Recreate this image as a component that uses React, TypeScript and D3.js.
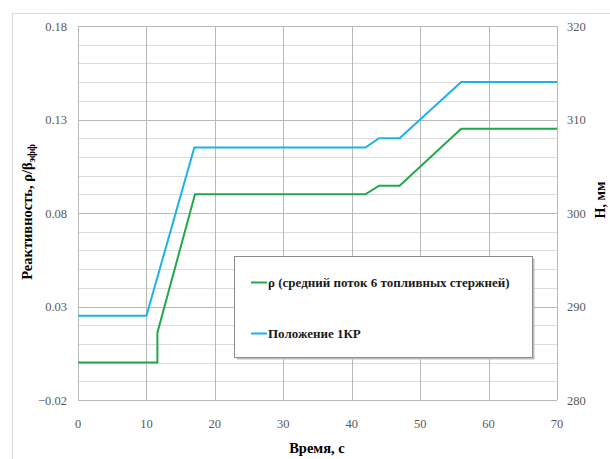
import * as d3 from 'd3'
import { useEffect, useRef } from 'react'

// control rod position (right axis, mm)
const timeRod = [0, 10, 17, 42, 44, 47, 56, 70]
const posRod = [289, 289, 307, 307, 308, 308, 314, 314]

// reactivity (left axis, ρ/β_eff)
const timeRho = [0, 11.6, 11.6, 17.1, 42, 44, 47, 56, 70]
const rhoVals = [0, 0, 0.016, 0.09, 0.09, 0.0946, 0.0946, 0.125, 0.125]

const xTicks = [0, 10, 20, 30, 40, 50, 60, 70]
const leftTicks = [-0.02, 0.03, 0.08, 0.13, 0.18]
const rightTicks = [280, 290, 300, 310, 320]
const legendLabels = ['ρ (средний поток 6 топливных стержней)', 'Положение 1КР']

const GREEN = '#22a84a'
const BLUE = '#1cb2e6'
const FONT = '"Liberation Serif", serif'

const App = () => {
  const ref = useRef<SVGSVGElement>(null)

  useEffect(() => {
    const svg = d3.select(ref.current)
    svg.selectAll('*').remove()

    const left = 78,
      right = 557,
      top = 26,
      bottom = 400

    const x = d3.scaleLinear().domain([0, 70]).range([left, right])
    const yL = d3.scaleLinear().domain([-0.02, 0.18]).range([bottom, top])
    const yR = d3.scaleLinear().domain([280, 320]).range([bottom, top])

    // outer frame
    svg
      .append('rect')
      .attr('x', 12.5)
      .attr('y', 13.5)
      .attr('width', 640)
      .attr('height', 480)
      .attr('fill', 'white')
      .attr('stroke', '#d9d9d9')

    // minor horizontal grid
    const minor = d3.range(-0.02, 0.1801, 0.01)
    svg
      .append('g')
      .selectAll('line')
      .data(minor)
      .enter()
      .append('line')
      .attr('x1', left)
      .attr('x2', right)
      .attr('y1', (d) => Math.round(yL(d)) + 0.5)
      .attr('y2', (d) => Math.round(yL(d)) + 0.5)
      .attr('stroke', '#dcdcdc')

    // major horizontal grid
    svg
      .append('g')
      .selectAll('line')
      .data(leftTicks)
      .enter()
      .append('line')
      .attr('x1', left)
      .attr('x2', right)
      .attr('y1', (d) => Math.round(yL(d)) + 0.5)
      .attr('y2', (d) => Math.round(yL(d)) + 0.5)
      .attr('stroke', '#b8b8b8')

    // vertical grid
    svg
      .append('g')
      .selectAll('line')
      .data(xTicks)
      .enter()
      .append('line')
      .attr('x1', (d) => Math.round(x(d)) + 0.5)
      .attr('x2', (d) => Math.round(x(d)) + 0.5)
      .attr('y1', top)
      .attr('y2', bottom)
      .attr('stroke', '#b8b8b8')

    // tick labels
    const ticks = svg.append('g')
    ticks
      .selectAll('text.x')
      .data(xTicks)
      .enter()
      .append('text')
      .attr('class', 'x')
      .attr('x', (d) => x(d))
      .attr('y', 428)
      .attr('text-anchor', 'middle')
      .text((d) => d)
    ticks
      .selectAll('text.yl')
      .data(leftTicks)
      .enter()
      .append('text')
      .attr('class', 'yl')
      .attr('x', 67)
      .attr('y', (d) => yL(d) + 4.5)
      .attr('text-anchor', 'end')
      .text((d) => d3.format('.2f')(d))
    ticks
      .selectAll('text.yr')
      .data(rightTicks)
      .enter()
      .append('text')
      .attr('class', 'yr')
      .attr('x', 567)
      .attr('y', (d) => yR(d) + 4.5)
      .text((d) => d)
    ticks
      .selectAll('text')
      .style('font-family', FONT)
      .style('font-size', '12.5px')
      .attr('fill', '#595959')

    // series
    const rhoLine = d3
      .line<number>()
      .x((d, i) => x(timeRho[i]))
      .y((d) => yL(d))
    const rodLine = d3
      .line<number>()
      .x((d, i) => x(timeRod[i]))
      .y((d) => yR(d))

    svg
      .append('path')
      .attr('d', rhoLine(rhoVals))
      .attr('fill', 'none')
      .attr('stroke', GREEN)
      .attr('stroke-width', 2)
    svg
      .append('path')
      .attr('d', rodLine(posRod))
      .attr('fill', 'none')
      .attr('stroke', BLUE)
      .attr('stroke-width', 2)

    // axis titles
    const lt = svg
      .append('text')
      .attr('transform', 'translate(32,212) rotate(-90)')
      .attr('text-anchor', 'middle')
      .style('font-family', FONT)
      .style('font-size', '14.5px')
      .style('font-weight', 'bold')
    lt.append('tspan').text('Реактивность, ρ/β')
    lt.append('tspan').style('font-size', '10px').attr('dy', 3).text('эфф')

    svg
      .append('text')
      .attr('transform', 'translate(605,200) rotate(-90)')
      .attr('text-anchor', 'middle')
      .style('font-family', FONT)
      .style('font-size', '14px')
      .style('font-weight', 'bold')
      .text('H, мм')

    svg
      .append('text')
      .attr('x', 317)
      .attr('y', 453)
      .attr('text-anchor', 'middle')
      .style('font-family', FONT)
      .style('font-size', '14.5px')
      .style('font-weight', 'bold')
      .text('Время, с')

    // legend
    const lg = svg.append('g')
    lg.append('rect')
      .attr('x', 236.5)
      .attr('y', 258.5)
      .attr('width', 298)
      .attr('height', 101)
      .attr('fill', '#bdbdbd')
    lg.append('rect')
      .attr('x', 234.5)
      .attr('y', 256.5)
      .attr('width', 298)
      .attr('height', 101)
      .attr('fill', 'white')
      .attr('stroke', '#8c8c8c')
    const colors = [GREEN, BLUE]
    const rows = lg
      .selectAll('g.item')
      .data(legendLabels)
      .enter()
      .append('g')
      .attr('class', 'item')
      .attr('transform', (d, i) => 'translate(0,' + (282.5 + i * 51) + ')')
    rows
      .append('line')
      .attr('x1', 251)
      .attr('x2', 267)
      .attr('stroke', (d, i) => colors[i])
      .attr('stroke-width', 2)
    rows
      .append('text')
      .attr('x', 268)
      .attr('y', 4.5)
      .style('font-family', FONT)
      .style('font-size', '13px')
      .style('font-weight', 'bold')
      .attr('fill', '#1a1a1a')
      .text((d) => d)
  }, [])

  return (
    <div style={{ position: 'absolute', left: 0, top: 0 }}>
      <svg ref={ref} width={610} height={459} style={{ display: 'block' }} />
    </div>
  )
}

export default App
